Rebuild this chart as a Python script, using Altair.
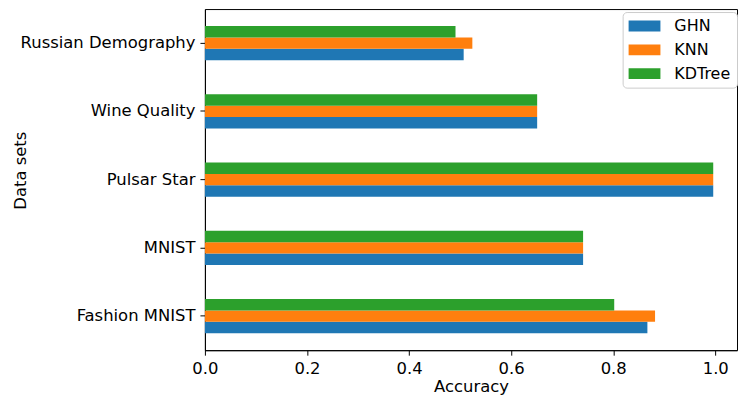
import altair as alt
import pandas as pd

datasets = ["Russian Demography", "Wine Quality", "Pulsar Star", "MNIST", "Fashion MNIST"]
methods = ["GHN", "KNN", "KDTree"]
ghn = [0.507, 0.651, 0.996, 0.741, 0.867]
knn = [0.524, 0.651, 0.996, 0.741, 0.882]
kdtree = [0.491, 0.651, 0.996, 0.741, 0.802]
colors = ["#1f77b4", "#ff7f0e", "#2ca02c"]
x_ticks = [0.0, 0.2, 0.4, 0.6, 0.8, 1.0]

rows = []
for i, d in enumerate(datasets):
    for m, vals in zip(methods, [ghn, knn, kdtree]):
        rows.append({"Dataset": d, "Method": m, "Accuracy": vals[i]})
df = pd.DataFrame(rows)

FONT = "DejaVu Sans"
FS = 16.5

chart = alt.Chart(df).mark_bar().encode(
    x=alt.X("Accuracy:Q",
            scale=alt.Scale(domain=[0, 1.0426], nice=False, zero=True),
            axis=alt.Axis(values=x_ticks, format=".1f", title="Accuracy", grid=False,
                          tickColor="black", domainColor="black", tickSize=5,
                          labelPadding=5, titlePadding=2, labelFlush=False)),
    y=alt.Y("Dataset:N", sort=datasets,
            scale=alt.Scale(paddingInner=0.5, paddingOuter=0.25),
            axis=alt.Axis(title="Data sets", grid=False, tickColor="black",
                          domainColor="black", tickSize=5, labelPadding=5,
                          titleX=-177, titleY=162, titleAngle=-90,
                          titleAlign="center", titleBaseline="bottom")),
    yOffset=alt.YOffset("Method:N", sort=["KDTree", "KNN", "GHN"]),
    color=alt.Color("Method:N", sort=methods,
                    scale=alt.Scale(domain=methods, range=colors),
                    legend=alt.Legend(title=None, orient="none",
                                      legendX=420, legendY=3,
                                      symbolType="M-2,-0.68H2V0.68H-2Z",
                                      symbolSize=256, symbolStrokeWidth=0,
                                      symbolOffset=8,
                                      labelFontSize=16, labelFont=FONT,
                                      labelColor="black",
                                      rowPadding=8, labelOffset=22,
                                      padding=6, strokeColor="#cccccc",
                                      fillColor="white", cornerRadius=4)),
).properties(
    width=535, height=343,
    autosize=alt.AutoSizeParams(type="none"),
    padding={"left": 198, "top": 0, "right": 2, "bottom": 48},
).configure_view(
    stroke="black", strokeWidth=1
).configure_axis(
    labelFont=FONT, titleFont=FONT, labelFontSize=FS, titleFontSize=FS,
    titleFontWeight="normal", labelColor="black", titleColor="black"
)

chart.save("out.html", embed_options={"renderer": "svg", "actions": False})
